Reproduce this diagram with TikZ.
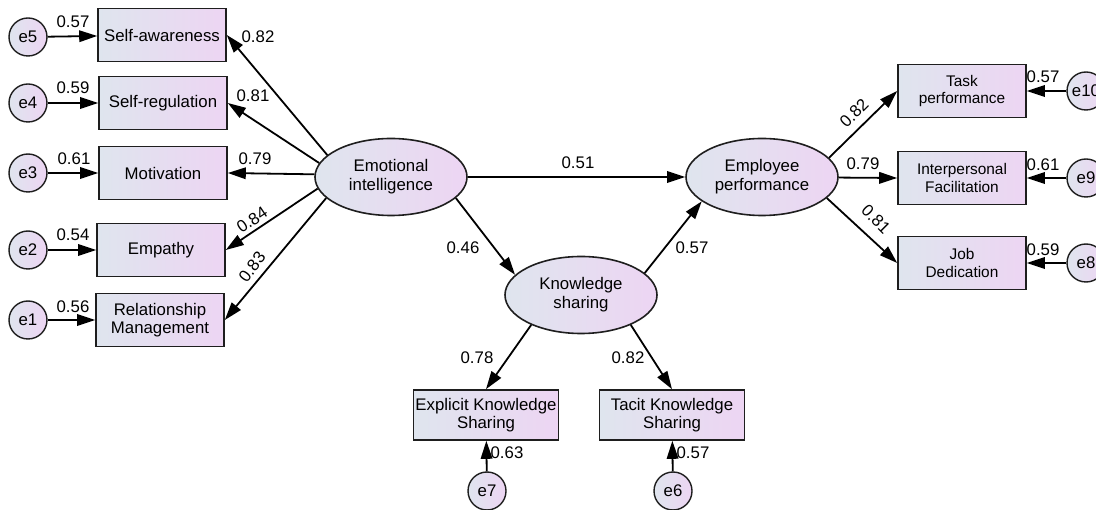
\documentclass[tikz,border=0pt]{standalone}
\usepackage{fontspec}
\setmainfont{Liberation Sans}
\usetikzlibrary{arrows.meta,shapes.geometric}
\definecolor{fillL}{RGB}{223,229,238}
\definecolor{fillR}{RGB}{237,213,243}
\definecolor{edge}{RGB}{30,30,30}
\tikzset{
	obs/.style={draw=edge,line width=1.6pt,left color=fillL,right color=fillR,minimum width=128,minimum height=53,inner sep=2pt,align=center,font=\fontsize{16.8}{18.5}\selectfont},
	obsR/.style={obs,font=\fontsize{15.4}{17.5}\selectfont},
	obsB/.style={obs,minimum width=145,minimum height=50},
	lat/.style={ellipse,draw=edge,line width=1.6pt,left color=fillL,right color=fillR,minimum width=152,minimum height=77,inner sep=0pt,align=center,font=\fontsize{16.8}{19}\selectfont},
	err/.style={circle,draw=edge,line width=1.4pt,left color=fillL,right color=fillR,minimum size=38,inner sep=0pt,font=\fontsize{16.8}{18}\selectfont},
	lbl/.style={inner sep=0pt,font=\fontsize{16.8}{18}\selectfont},
}
\begin{document}
\begin{tikzpicture}[x=1pt,y=-1pt,>={Triangle[length=18pt,width=11.5pt]},line width=1.8pt,draw=black]
	\useasboundingbox (0,0) rectangle (1096,510);
	% latent variables
	\node[lat] (EI) at (391,177) {Emotional\\intelligence};
	\node[lat] (KS) at (581,295) {Knowledge\\sharing};
	\node[lat] (EP) at (762,177) {Employee\\performance};
	% emotional intelligence indicators
	\node[obs] (sa) at (162,35) {Self-awareness};
	\node[obs] (sr) at (163,103) {Self-regulation};
	\node[obs] (mo) at (163,173) {Motivation};
	\node[obs] (em) at (161,250) {Empathy};
	\node[obs] (rm) at (160,320) {Relationship\\Management};
	\node[err] (e5) at (28,37) {e5};
	\node[err] (e4) at (28,103) {e4};
	\node[err] (e3) at (28,173) {e3};
	\node[err] (e2) at (28,250) {e2};
	\node[err] (e1) at (28,320) {e1};
	% employee performance indicators
	\node[obsR] (tp) at (962,91) {Task\\performance};
	\node[obsR] (ip) at (962,178) {Interpersonal\\Facilitation};
	\node[obsR] (jd) at (962,263) {Job\\Dedication};
	\node[err] (e10) at (1086,91) {e10};
	\node[err] (e9) at (1086,178) {e9};
	\node[err] (e8) at (1086,263) {e8};
	% knowledge sharing indicators
	\node[obsB] (eks) at (486,415) {Explicit Knowledge\\Sharing};
	\node[obsB] (tks) at (672,415) {Tacit Knowledge\\Sharing};
	\node[err] (e7) at (487,491) {e7};
	\node[err] (e6) at (673,491) {e6};
	% paths
	\draw[->] (EI.161) -- (sa.east);
	\draw[->] (EI.169) -- (sr.east);
	\draw[->] (EI.178) -- (mo.east);
	\draw[->] (EI.189) -- (em.east);
	\draw[->] (EI.198) -- (rm.east);
	\draw[->] (e5) -- (sa);
	\draw[->] (e4) -- (sr);
	\draw[->] (e3) -- (mo);
	\draw[->] (e2) -- (em);
	\draw[->] (e1) -- (rm);
	\draw[->] (EI) -- (EP);
	\draw[->] (EI.-18) -- (KS.163);
	\draw[->] (KS.19) -- (EP.202);
	\draw[->] (EP.16) -- (tp.west);
	\draw[->] (EP) -- (ip.west);
	\draw[->] (EP.-18) -- (jd.west);
	\draw[->] (e10) -- (tp);
	\draw[->] (e9) -- (ip);
	\draw[->] (e8) -- (jd);
	\draw[->] (KS.211) -- (eks.north);
	\draw[->] (KS.-31) -- (tks.north);
	\draw[->] (e7) -- (eks);
	\draw[->] (e6) -- (tks);
	% estimates
	\node[lbl] at (73,22) {0.57};
	\node[lbl] at (73,88) {0.59};
	\node[lbl] at (74,159) {0.61};
	\node[lbl] at (73,235) {0.54};
	\node[lbl] at (73,307) {0.56};
	\node[lbl] at (258,37) {0.82};
	\node[lbl] at (253,96) {0.81};
	\node[lbl] at (255,159) {0.79};
	\node[lbl,rotate=34] at (252,220) {0.84};
	\node[lbl,rotate=53] at (252,267) {0.83};
	\node[lbl] at (578,163) {0.51};
	\node[lbl] at (463,248) {0.46};
	\node[lbl] at (692,248) {0.57};
	\node[lbl,rotate=45] at (854,113) {0.82};
	\node[lbl] at (863,164) {0.79};
	\node[lbl,rotate=-45] at (876,219) {0.81};
	\node[lbl] at (1043,77) {0.57};
	\node[lbl] at (1043,165) {0.61};
	\node[lbl] at (1043,250) {0.59};
	\node[lbl] at (477,358) {0.78};
	\node[lbl] at (628,358) {0.82};
	\node[lbl] at (507,453) {0.63};
	\node[lbl] at (693,453) {0.57};
\end{tikzpicture}
\end{document}
